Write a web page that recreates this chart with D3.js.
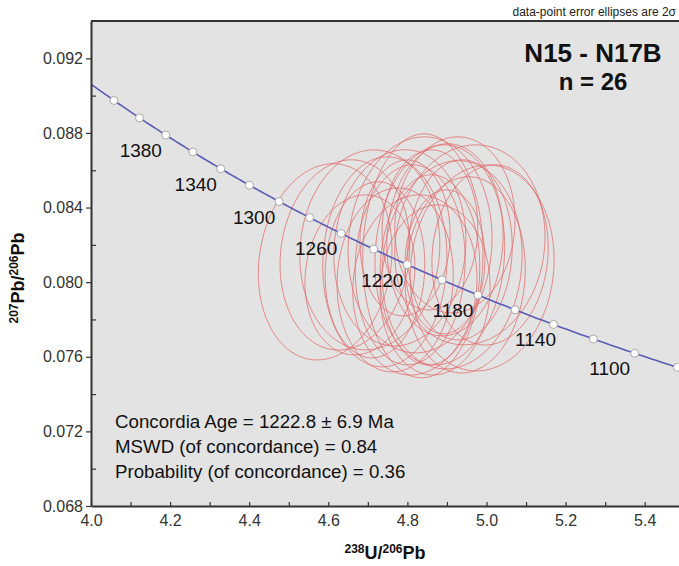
<!DOCTYPE html>
<html>
<head>
<meta charset="utf-8">
<script src="https://cdn.jsdelivr.net/npm/d3@7"></script>
<style>
  body { margin: 0; background: #fff; }
  svg { font-family: "Liberation Sans", Arial, sans-serif; }
</style>
</head>
<body>
<div id="chart"></div>
<script>
// x ticks / y ticks
const xTicks = [4.0, 4.2, 4.4, 4.6, 4.8, 5.0, 5.2, 5.4];
const xMinor = [4.1, 4.3, 4.5, 4.7, 4.9, 5.1, 5.3, 5.5];
const yTicks = [0.068, 0.072, 0.076, 0.080, 0.084, 0.088, 0.092];
const yMinor = [0.070, 0.074, 0.078, 0.082, 0.086, 0.090];

// concordia age markers (Ma)
const ageDots = [1420, 1400, 1380, 1360, 1340, 1320, 1300, 1280, 1260, 1240, 1220,
                 1200, 1180, 1160, 1140, 1120, 1100, 1080];
const ageLabels = [1380, 1340, 1300, 1260, 1220, 1180, 1140, 1100];

// error ellipses: 238U/206Pb, 2s, 207Pb/206Pb, 2s, rho
const u238 = [4.592, 4.839, 4.989, 4.642, 4.705, 4.743, 4.781, 4.807, 4.832, 4.857, 4.882, 4.895, 4.913,
              4.933, 4.946, 4.958, 4.769, 4.819, 4.870, 4.718, 4.920, 5.009, 4.857, 4.794, 4.895, 4.680];
const u238err = [0.169, 0.152, 0.182, 0.164, 0.177, 0.157, 0.167, 0.139, 0.182, 0.126, 0.164, 0.147, 0.177,
                 0.132, 0.152, 0.190, 0.147, 0.157, 0.139, 0.126, 0.152, 0.147, 0.121, 0.114, 0.101, 0.139];
const pb207 = [0.08109, 0.08141, 0.08076, 0.08146, 0.08173, 0.08109, 0.08184, 0.08093, 0.08200, 0.08066, 0.08146, 0.08227, 0.08093,
               0.08173, 0.08039, 0.08200, 0.08012, 0.07985, 0.07958, 0.08066, 0.08307, 0.08146, 0.08280, 0.08237, 0.08109, 0.08039];
const pb207err = [0.00526, 0.00654, 0.00552, 0.00510, 0.00536, 0.00563, 0.00526, 0.00536, 0.00579, 0.00510, 0.00590, 0.00515, 0.00558,
                  0.00483, 0.00526, 0.00536, 0.00493, 0.00483, 0.00456, 0.00472, 0.00472, 0.00483, 0.00429, 0.00418, 0.00386, 0.00429];
const rho = [0.12, 0.02, 0.08, 0.10, 0.06, 0.04, 0.08, 0.05, 0.06, 0.03, 0.07, 0.05, 0.09,
             0.04, 0.06, 0.08, 0.05, 0.07, 0.04, 0.06, 0.05, 0.08, 0.03, 0.05, 0.04, 0.10];

const statLines = [
  "Concordia Age = 1222.8 \u00b1 6.9 Ma",
  "MSWD (of concordance) = 0.84",
  "Probability (of concordance) = 0.36"
];

const W = 679, H = 566;
const margin = { top: 21, left: 91, bottom: 60 };
const plotW = 593.25;
const plotH = 506 - margin.top;

const svg = d3.select("#chart").append("svg")
  .attr("width", W).attr("height", H);

const x = d3.scaleLinear().domain([4.0, 5.5]).range([margin.left, margin.left + plotW]);
const y = d3.scaleLinear().domain([0.068, 0.094]).range([margin.top + plotH, margin.top]);

svg.append("defs").append("clipPath").attr("id", "clip")
  .append("rect")
  .attr("x", margin.left).attr("y", margin.top)
  .attr("width", plotW).attr("height", plotH);

// plot background
svg.append("rect")
  .attr("x", margin.left).attr("y", margin.top)
  .attr("width", plotW).attr("height", plotH)
  .attr("fill", "#e3e3e3");

// concordia (Tera-Wasserburg)
const l238 = 1.55125e-4, l235 = 9.8485e-4, uRatio = 137.88;
const tw = t => {
  const e8 = Math.exp(l238 * t) - 1, e5 = Math.exp(l235 * t) - 1;
  return [1 / e8, e5 / e8 / uRatio];
};

const plot = svg.append("g").attr("clip-path", "url(#clip)");

// ellipses
const ell = d3.line().curve(d3.curveLinearClosed);
const ellipses = u238.map((v, i) => {
  const pts = d3.range(0, 121).map(k => {
    const a = k / 120 * 2 * Math.PI;
    const dx = u238err[i] * Math.cos(a);
    const dy = pb207err[i] * (rho[i] * Math.cos(a) + Math.sqrt(1 - rho[i] * rho[i]) * Math.sin(a));
    return [x(v + dx), y(pb207[i] + dy)];
  });
  return pts;
});

plot.append("g")
  .selectAll("path")
  .data(ellipses)
  .enter()
  .append("path")
  .attr("d", d => ell(d))
  .attr("fill", "none")
  .attr("stroke", "#e06a6a")
  .attr("stroke-opacity", 0.75)
  .attr("stroke-width", 1);

const curvePts = d3.range(1000, 1470, 2).map(tw);
plot.append("path")
  .attr("d", d3.line().x(d => x(d[0])).y(d => y(d[1]))(curvePts))
  .attr("fill", "none")
  .attr("stroke", "#5b5bb5")
  .attr("stroke-width", 1.6);

plot.append("g")
  .selectAll("circle")
  .data(ageDots)
  .enter()
  .append("circle")
  .attr("cx", d => x(tw(d)[0]))
  .attr("cy", d => y(tw(d)[1]))
  .attr("r", 4)
  .attr("fill", "#fff")
  .attr("stroke", "#a8a8a8")
  .attr("stroke-width", 1);

plot.append("g")
  .selectAll("text")
  .data(ageLabels)
  .enter()
  .append("text")
  .attr("x", d => x(tw(d)[0]) - (d === 1140 ? 18 : 25))
  .attr("y", d => y(tw(d)[1]) + 22)
  .attr("text-anchor", "middle")
  .style("font-size", "19px")
  .attr("fill", "#111")
  .text(d => d);

// frame lines (top, left, bottom)
const axisColor = "#333";
svg.append("line")
  .attr("x1", margin.left).attr("x2", W)
  .attr("y1", margin.top).attr("y2", margin.top)
  .attr("stroke", axisColor).attr("stroke-width", 2);

// x axis
const xAxis = svg.append("g")
  .attr("transform", `translate(0,${margin.top + plotH})`)
  .call(d3.axisBottom(x).tickValues(xTicks).tickFormat(d3.format(".1f")).tickSizeInner(-4).tickSizeOuter(0).tickPadding(9));
xAxis.append("g")
  .call(d3.axisBottom(x).tickValues(xMinor).tickFormat("").tickSizeInner(-4).tickSizeOuter(0))
  .select(".domain").remove();
xAxis.selectAll(".domain").attr("stroke", axisColor).attr("stroke-width", 2);
xAxis.selectAll(".tick line").attr("stroke", axisColor).attr("stroke-width", 1.2);
xAxis.selectAll(".tick text")
  .style("font-size", "16px").style("font-family", "Liberation Sans, Arial, sans-serif")
  .attr("fill", "#333");

// y axis
const yAxis = svg.append("g")
  .attr("transform", `translate(${margin.left},0)`)
  .call(d3.axisLeft(y).tickValues(yTicks).tickFormat(d3.format(".3f")).tickSizeInner(5).tickSizeOuter(0).tickPadding(3));
yAxis.append("g")
  .call(d3.axisLeft(y).tickValues(yMinor).tickFormat("").tickSizeInner(-5).tickSizeOuter(0))
  .select(".domain").remove();
yAxis.selectAll(".domain").attr("stroke", axisColor).attr("stroke-width", 2);
yAxis.selectAll(".tick line").attr("stroke", axisColor).attr("stroke-width", 1.2);
yAxis.selectAll(".tick text")
  .style("font-size", "16px").style("font-family", "Liberation Sans, Arial, sans-serif")
  .attr("fill", "#333");

// axis titles
const xt = svg.append("text")
  .attr("x", 385).attr("y", 559)
  .attr("text-anchor", "middle")
  .style("font-weight", "bold").style("font-size", "18px")
  .attr("fill", "#111");
xt.append("tspan").style("font-size", "12px").attr("dy", -6).text("238");
xt.append("tspan").attr("dy", 6).text("U/");
xt.append("tspan").style("font-size", "12px").attr("dy", -6).text("206");
xt.append("tspan").attr("dy", 6).text("Pb");

const yt = svg.append("text")
  .attr("transform", "translate(24,278) rotate(-90)")
  .attr("text-anchor", "middle")
  .style("font-weight", "bold").style("font-size", "18px")
  .attr("fill", "#111");
yt.append("tspan").style("font-size", "12px").attr("dy", -6).text("207");
yt.append("tspan").attr("dy", 6).text("Pb/");
yt.append("tspan").style("font-size", "12px").attr("dy", -6).text("206");
yt.append("tspan").attr("dy", 6).text("Pb");

// annotations
svg.append("text")
  .attr("x", 676).attr("y", 16)
  .attr("text-anchor", "end")
  .style("font-size", "12px")
  .attr("fill", "#222")
  .text("data-point error ellipses are 2\u03c3");

svg.append("text")
  .attr("x", 593).attr("y", 62)
  .attr("text-anchor", "middle")
  .style("font-weight", "bold").style("font-size", "26px")
  .attr("fill", "#111")
  .text("N15 - N17B");

svg.append("text")
  .attr("x", 593).attr("y", 90)
  .attr("text-anchor", "middle")
  .style("font-weight", "bold").style("font-size", "24px")
  .attr("fill", "#111")
  .text("n = 26");

svg.append("g")
  .selectAll("text")
  .data(statLines)
  .enter()
  .append("text")
  .attr("x", 115)
  .attr("y", (d, i) => 428 + i * 25)
  .style("font-size", "18.7px")
  .attr("fill", "#111")
  .text(d => d);
</script>
</body>
</html>
